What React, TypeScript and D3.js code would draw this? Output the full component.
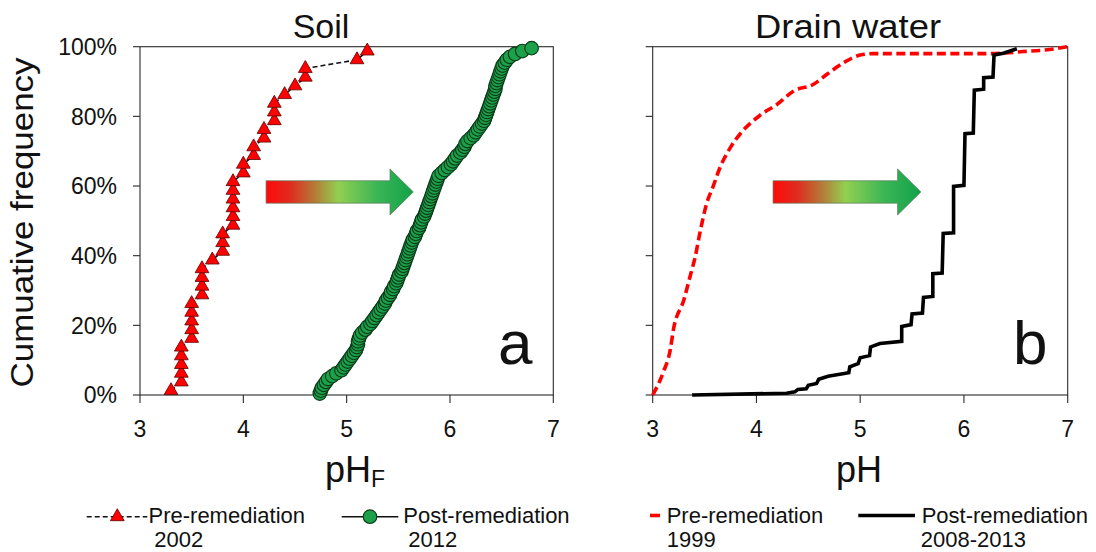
import React from 'react';
import * as d3 from 'd3';

// ---- data ----
const xTicks = [3, 4, 5, 6, 7];
const yTicks = [0, 0.2, 0.4, 0.6, 0.8, 1];

// Soil pH_F, pre-remediation 2002 (sorted sample values)
const soilPre2002 = [
  3.3,
  3.4, 3.4, 3.4, 3.4, 3.4,
  3.5, 3.5, 3.5, 3.5, 3.5,
  3.6, 3.6, 3.6, 3.6,
  3.7,
  3.8, 3.8, 3.8,
  3.9, 3.9, 3.9, 3.9, 3.9, 3.9,
  4.0, 4.0,
  4.1, 4.1,
  4.2, 4.2,
  4.3, 4.3, 4.3,
  4.4, 4.5,
  4.6, 4.6,
  5.1, 5.2,
];

// Soil pH_F, post-remediation 2012 (sorted sample values)
const soilPost2012 = [
  4.74, 4.75, 4.76, 4.78, 4.8, 4.82, 4.86, 4.9, 4.95, 4.97,
  4.99, 5.01, 5.03, 5.05, 5.07, 5.09, 5.1, 5.11, 5.11, 5.12,
  5.13, 5.15, 5.18, 5.2, 5.23, 5.25, 5.27, 5.29, 5.31, 5.33,
  5.35, 5.37, 5.38, 5.4, 5.42, 5.43, 5.45, 5.46, 5.48, 5.49,
  5.5, 5.51, 5.53, 5.54, 5.55, 5.56, 5.57, 5.58, 5.59, 5.6,
  5.61, 5.62, 5.63, 5.64, 5.66, 5.67, 5.68, 5.7, 5.71, 5.72,
  5.73, 5.75, 5.76, 5.77, 5.78, 5.79, 5.8, 5.81, 5.82, 5.83,
  5.84, 5.85, 5.86, 5.87, 5.88, 5.89, 5.92, 5.95, 5.98, 6.01,
  6.03, 6.05, 6.07, 6.1, 6.12, 6.14, 6.15, 6.17, 6.2, 6.23,
  6.25, 6.27, 6.29, 6.31, 6.33, 6.34, 6.35, 6.36, 6.37, 6.38,
  6.39, 6.4, 6.41, 6.42, 6.43, 6.44, 6.44, 6.45, 6.46, 6.47,
  6.48, 6.49, 6.5, 6.51, 6.53, 6.55, 6.58, 6.63, 6.7, 6.79,
];

// Drain water pH, pre-remediation 1999 (curve)
const drainPrePH = [3.0, 3.1, 3.17, 3.2, 3.3, 3.36, 3.41, 3.46, 3.52, 3.58, 3.65, 3.75, 3.87, 4.03, 4.2, 4.36, 4.55, 4.68, 4.84, 5.0, 5.13, 6.25, 6.57, 6.83, 7.0];
const drainPreFreq = [0.0, 0.064, 0.131, 0.188, 0.273, 0.34, 0.397, 0.473, 0.55, 0.597, 0.654, 0.711, 0.759, 0.802, 0.835, 0.873, 0.892, 0.921, 0.954, 0.976, 0.98, 0.98, 0.986, 0.992, 1.0];

// Drain water pH, post-remediation 2008-2013 (step curve)
const drainPostPH = [3.38, 4.29, 4.37, 4.4, 4.48, 4.5, 4.58, 4.6, 4.69, 4.89, 4.9, 4.98, 5.0, 5.09, 5.1, 5.19, 5.4, 5.4, 5.49, 5.5, 5.6, 5.61, 5.7, 5.7, 5.79, 5.8, 5.9, 5.9, 6.0, 6.01, 6.09, 6.1, 6.19, 6.19, 6.28, 6.29, 6.38, 6.51];
const drainPostFreq = [0.0, 0.005, 0.009, 0.016, 0.018, 0.028, 0.033, 0.045, 0.054, 0.064, 0.081, 0.09, 0.107, 0.113, 0.138, 0.148, 0.154, 0.197, 0.202, 0.233, 0.235, 0.28, 0.283, 0.348, 0.35, 0.464, 0.466, 0.599, 0.602, 0.75, 0.752, 0.875, 0.878, 0.911, 0.913, 0.976, 0.981, 0.994];

// annotation arrows (pH start, pH tip, cumulative level)
const soilArrow = [4.22, 5.645];
const drainArrow = [4.16, 5.585];
const arrowLevel = 0.583;

const FONT = "'Liberation Sans', Arial, Helvetica, sans-serif";

export default function App() {
  const y = d3.scaleLinear().domain([0, 1]).range([395, 46.7]);
  const xa = d3.scaleLinear().domain([3, 7]).range([140, 553.3]);
  const xb = d3.scaleLinear().domain([3, 7]).range([652.7, 1067.7]);
  const pct = d3.format('.0%');

  const ecdf = (arr: number[]) => arr.map((v, i) => [v, (i + 0.5) / arr.length] as [number, number]);
  const preA = ecdf(soilPre2002);
  const postA = ecdf(soilPost2012);
  const preB = drainPrePH.map((v, i) => [v, drainPreFreq[i]] as [number, number]);
  const postB = drainPostPH.map((v, i) => [v, drainPostFreq[i]] as [number, number]);

  const lineA = d3.line<[number, number]>().x(d => xa(d[0])).y(d => y(d[1]));
  const lineBsmooth = d3.line<[number, number]>().x(d => xb(d[0])).y(d => y(d[1])).curve(d3.curveMonotoneX);
  const lineB = d3.line<[number, number]>().x(d => xb(d[0])).y(d => y(d[1]));
  const tri = d3.symbol(d3.symbolTriangle, 82)()!;

  const arrowPath = (x: d3.ScaleLinear<number, number>, a: number[]) => {
    const x0 = x(a[0]);
    const tip = x(a[1]);
    const xb2 = tip - 23.3;
    const yc = y(arrowLevel);
    const bh = 11.2, hh = 23;
    return `M${x0},${yc - bh}L${xb2},${yc - bh}L${xb2},${yc - hh}L${tip},${yc}L${xb2},${yc + hh}L${xb2},${yc + bh}L${x0},${yc + bh}Z`;
  };

  const frame = (x: d3.ScaleLinear<number, number>) => {
    const [l, r] = x.range();
    const [b, t] = y.range();
    return (
      <g>
        <rect x={l} y={t} width={r - l} height={b - t} fill="none" stroke="#2a2a2a" strokeWidth={1.1} />
        {yTicks.map(v => (
          <line key={'y' + v} x1={l - 7} x2={l} y1={y(v)} y2={y(v)} stroke="#2a2a2a" strokeWidth={1.1} />
        ))}
        {xTicks.map(v => (
          <g key={'x' + v}>
            <line x1={x(v)} x2={x(v)} y1={b} y2={b + 8} stroke="#2a2a2a" strokeWidth={1.1} />
            <text x={x(v)} y={b + 41.5} textAnchor="middle" fontSize={23} fill="#111">{v}</text>
          </g>
        ))}
      </g>
    );
  };

  return (
    <svg width={1096} height={552} style={{ position: 'absolute', left: 0, top: 0, background: '#fff' }} fontFamily={FONT}>
      <defs>
        <linearGradient id="arrowGrad" x1="0" x2="1" y1="0" y2="0">
          <stop offset="0" stopColor="#ff0a0a" />
          <stop offset="0.16" stopColor="#e02a1e" />
          <stop offset="0.33" stopColor="#b57a38" />
          <stop offset="0.49" stopColor="#92d050" />
          <stop offset="0.75" stopColor="#3cb655" />
          <stop offset="1" stopColor="#12a24a" />
        </linearGradient>
      </defs>

      {/* titles */}
      <text x={321} y={37.5} textAnchor="middle" fontSize={34} fill="#111">Soil</text>
      <text x={848} y={37.5} textAnchor="middle" fontSize={34} fill="#111" textLength={186} lengthAdjust="spacingAndGlyphs">Drain water</text>

      {/* y label */}
      <text transform="translate(33,222.5) rotate(-90)" textAnchor="middle" fontSize={31} fill="#111" textLength={330} lengthAdjust="spacingAndGlyphs">Cumuative frequency</text>

      {/* y tick labels */}
      {yTicks.map(v => (
        <text key={v} x={117} y={y(v) + 8.3} textAnchor="end" fontSize={23} fill="#111">{pct(v)}</text>
      ))}

      {frame(xa)}
      {frame(xb)}

      {/* x titles */}
      <text x={325} y={481.7} fontSize={36} fill="#111">pH<tspan fontSize={23} dy={5}>F</tspan></text>
      <text x={859} y={481.7} textAnchor="middle" fontSize={36} fill="#111">pH</text>

      {/* arrows */}
      <path d={arrowPath(xa, soilArrow)} fill="url(#arrowGrad)" stroke="#5f7a5f" strokeWidth={0.7} />
      <path d={arrowPath(xb, drainArrow)} fill="url(#arrowGrad)" stroke="#5f7a5f" strokeWidth={0.7} />

      {/* panel a */}
      <path d={lineA(preA)!} fill="none" stroke="#111" strokeWidth={1.6} strokeDasharray="5,3" />
      <path d={lineA(postA)!} fill="none" stroke="#111" strokeWidth={1.6} />
      {preA.map((d, i) => (
        <path key={'t' + i} d={tri} transform={`translate(${xa(d[0])},${y(d[1])})`} fill="#ff0000" stroke="#5a0000" strokeWidth={0.8} />
      ))}
      {postA.map((d, i) => (
        <circle key={'c' + i} cx={xa(d[0])} cy={y(d[1])} r={6.8} fill="#1ca04a" stroke="#0b3a18" strokeWidth={1.1} />
      ))}
      <text x={498} y={363.5} fontSize={62} fill="#111">a</text>

      {/* panel b */}
      <path d={lineBsmooth(preB)!} fill="none" stroke="#ff0000" strokeWidth={3.6} strokeDasharray="9,4.5" />
      <path d={lineB(postB)!} fill="none" stroke="#000" strokeWidth={3.6} strokeLinejoin="miter" />
      <text x={1013} y={363.5} fontSize={62} fill="#111">b</text>

      {/* legends */}
      <g fontSize={22} fill="#111">
        <line x1={86.7} x2={147.3} y1={516.7} y2={516.7} stroke="#111" strokeWidth={1.6} strokeDasharray="5,3" />
        <path d={tri} transform="translate(117.3,516.7)" fill="#ff0000" stroke="#5a0000" strokeWidth={0.8} />
        <text x={148.5} y={523.3}>Pre-remediation</text>
        <text x={154.3} y={546.5}>2002</text>

        <line x1={341.7} x2={398.3} y1={516.7} y2={516.7} stroke="#111" strokeWidth={1.6} />
        <circle cx={370} cy={516.7} r={6.8} fill="#1ca04a" stroke="#0b3a18" strokeWidth={1.1} />
        <text x={403.3} y={523.3}>Post-remediation</text>
        <text x={408.3} y={546.5}>2012</text>

        <line x1={650} x2={660} y1={515.5} y2={515.5} stroke="#ff0000" strokeWidth={3.6} />
        <text x={666.7} y={523.3}>Pre-remediation</text>
        <text x={666.7} y={546.5}>1999</text>

        <line x1={858.3} x2={915} y1={515.5} y2={515.5} stroke="#000" strokeWidth={3.6} />
        <text x={921.7} y={523.3}>Post-remediation</text>
        <text x={920.7} y={546.5}>2008-2013</text>
      </g>
    </svg>
  );
}
